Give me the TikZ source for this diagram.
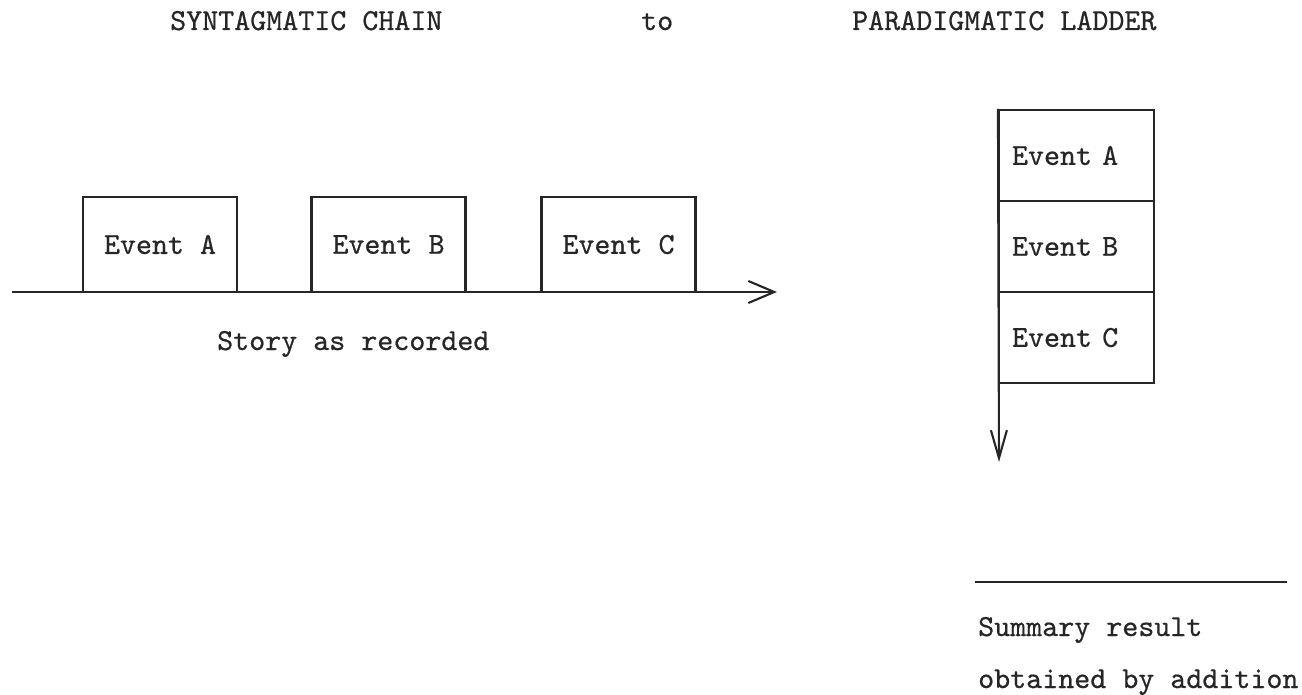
\documentclass[tikz,border=0pt]{standalone}
\usepackage{fontspec}
\usetikzlibrary{arrows.meta}
% typewriter face, struck a little heavier than the plain cut
\newfontfamily\typer{lmmono10-regular.otf}[BoldFont=lmmono10-regular.otf,BoldFeatures={FakeBold=0.6}]
\begin{document}
\begin{tikzpicture}[x=1pt,y=-1pt,
  ink/.style={draw=black!85,line width=2.1pt},
  typed/.style={font=\typer\bfseries\fontsize{30.5}{37}\selectfont,text=black!85,inner sep=0pt},
  heading/.style={typed,anchor=base west},
  chainbox/.style={ink,typed,rectangle,minimum width=154pt,minimum height=95pt},
  rung/.style={ink,typed,rectangle,minimum height=91pt,text width=129pt,
    align=left,inner xsep=13pt,inner ysep=0pt},
  timeline/.style={ink,-{Straight Barb[length=26pt,width=22pt,line width=2.1pt]}},
  ladderline/.style={ink,-{Straight Barb[length=28pt,width=16pt,line width=2.1pt]}}
]
\useasboundingbox (0,0) rectangle (1302,695);

% titles
\node[heading] (t1) at (170,30) {SYNTAGMATIC CHAIN};
\node[heading] (t2) at (641,30) {to};
\node[heading] (t3) at (852,30) {PARADIGMATIC LADDER};

% syntagmatic chain: events standing on the time line
\node[chainbox] (ea) at (160,244.5) {Event A};
\node[chainbox] (eb) at (388.5,244.5) {Event B};
\node[chainbox] (ec) at (618.5,244.5) {Event C};
\coordinate (chainstart) at (12,292);
\coordinate (chainend) at (777,292);
\draw[timeline] (chainstart) -- (chainend);
\node[heading] (story) at (217,350) {Story as recorded};

% paradigmatic ladder: the same events stacked
\node[rung] (ra) at (1076.5,155.5) {Event A};
\node[rung] (rb) at (1076.5,246.5) {Event B};
\node[rung] (rc) at (1076.5,337.5) {Event C};
\coordinate (ladderend) at (999,462);
\draw[ladderline] (ra.north west) -- (ladderend);

% summary line and caption
\coordinate (rulestart) at (975,582);
\coordinate (ruleend) at (1287,582);
\draw[ink,line width=1.6pt] (rulestart) -- (ruleend);
\node[heading] (sum1) at (978,636) {Summary result};
\node[heading] (sum2) at (978,688) {obtained by addition};
\end{tikzpicture}
\end{document}
